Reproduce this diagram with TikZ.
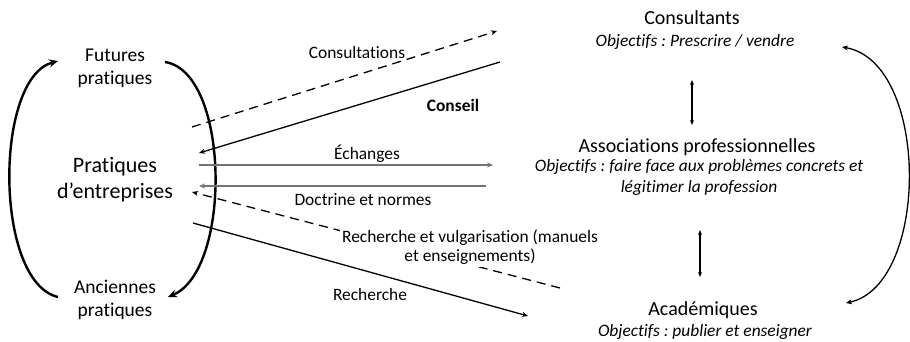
\documentclass[tikz,border=0pt]{standalone}
\usepackage{fontspec}
\setmainfont{Carlito}[Ligatures={NoCommon}]
\usetikzlibrary{arrows.meta}
\frenchspacing
\begin{document}
\begin{tikzpicture}[x=1pt,y=-1pt,
  lbl/.style={font=\fontsize{17.4}{19}\selectfont, align=center, inner sep=1pt},
  actor/.style={font=\fontsize{20}{24}\selectfont, align=center, inner sep=0pt},
  big/.style={font=\fontsize{22}{26}\selectfont, align=center, inner sep=0pt},
  side/.style={font=\fontsize{19.5}{23.5}\selectfont, align=center, inner sep=0pt},
  obj/.style={font=\fontsize{17.4}{21}\selectfont\itshape, align=center, inner sep=0pt},
  tip/.style={-{Stealth[length=6pt,width=5pt]}},
  conn/.style={line width=1.3pt, tip},
  grayconn/.style={line width=1.3pt, draw=black!55, -{Stealth[length=6pt,width=5pt]}},
  dashconn/.style={line width=1.3pt, dash pattern=on 9pt off 6pt, tip},
  cycle/.style={line width=2.4pt, -{Stealth[length=9pt,width=8pt]}},
  rcycle/.style={line width=1.3pt, {Stealth[length=6pt,width=5pt]}-{Stealth[length=6pt,width=5pt]}},
  vlink/.style={line width=1.6pt, {Stealth[length=5pt,width=4pt]}-{Stealth[length=5pt,width=4pt]}}
]
\useasboundingbox (0,0) rectangle (910,342);

% left side nodes
\node[side] (fut) at (115,68.5) {Futures\\pratiques};
\node[big] (prat) at (115,180) {Pratiques\\d’entreprises};
\node[side] (anc) at (115,300) {Anciennes\\pratiques};

% right side nodes
\node[actor] (cons) at (692,18) {Consultants};
\node[obj] (consobj) at (695,42) {Objectifs : Prescrire / vendre};
\node[actor] (assoc) at (697,147) {Associations professionnelles};
\node[obj] (assocobj) at (699,177.5) {Objectifs : faire face aux problèmes concrets et\\légitimer la profession};
\node[actor] (acad) at (703,310) {Académiques};
\node[obj] (acadobj) at (705,332) {Objectifs : publier et enseigner};

% cycle arrows left
\coordinate (lcA) at (58,297);
\coordinate (lcB) at (58,61);
\coordinate (rcA) at (165,62);
\coordinate (rcB) at (168,297);
\draw[cycle] (lcA) .. controls (-6,282) and (-6,78) .. (lcB);
\draw[cycle] (rcA) .. controls (230,72) and (232,270) .. (rcB);

% right cycle
\coordinate (rrA) at (846,303);
\coordinate (rrB) at (842,47);
\draw[rcycle] (rrA) .. controls (930,285) and (930,62) .. (rrB);

% vertical links
\coordinate (v1a) at (692,80);
\coordinate (v1b) at (692,125);
\coordinate (v2a) at (700,230);
\coordinate (v2b) at (700,277);
\draw[vlink] (v1a) -- (v1b);
\draw[vlink] (v2a) -- (v2b);

% connectors
\coordinate (cs0) at (192,127);
\coordinate (cs1) at (497,31);
\draw[dashconn] (cs0) -- (cs1);
\node[lbl] (lcs) at (357,53) {Consultations};

\coordinate (co0) at (500,62);
\coordinate (co1) at (199,153);
\draw[conn] (co0) -- (co1);
\node[lbl, font=\fontsize{17.4}{19}\selectfont\bfseries] (lco) at (453,105) {Conseil};

\coordinate (ec0) at (199,165);
\coordinate (ec1) at (493,165);
\draw[grayconn] (ec0) -- (ec1);
\node[lbl] (lec) at (367,154) {Échanges};

\coordinate (dn0) at (486,186);
\coordinate (dn1) at (199,186);
\draw[grayconn] (dn0) -- (dn1);
\node[lbl] (ldn) at (363,200) {Doctrine et normes};

\coordinate (rv0) at (560,288);
\coordinate (rv1) at (192,192);
\draw[dashconn] (rv0) -- (rv1);
\node[lbl, fill=white, inner sep=2pt] (lrv) at (470,247.5) {Recherche et vulgarisation (manuels\\et enseignements)};

\coordinate (re0) at (193,223);
\coordinate (re1) at (528,316);
\draw[conn] (re0) -- (re1);
\node[lbl] (lre) at (370,295) {Recherche};
\end{tikzpicture}
\end{document}
